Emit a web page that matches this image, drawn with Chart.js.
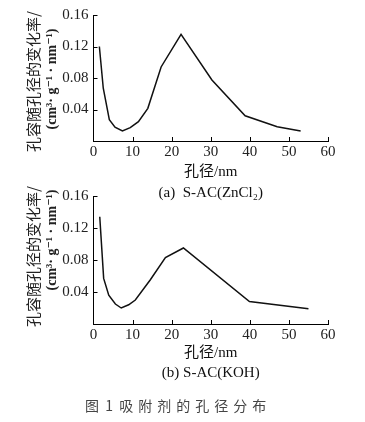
<!DOCTYPE html>
<html>
<head>
<meta charset="utf-8">
<script src="https://cdn.jsdelivr.net/npm/chart.js@4.4.1/dist/chart.umd.min.js"></script>
<style>
  html, body { margin: 0; padding: 0; background: #fff; }
  body { width: 365px; height: 422px; position: relative; overflow: hidden; }
  .wrap { position: absolute; left: 0; width: 365px; }
  #wa { top: 0; height: 202px; }
  #wb { top: 181px; height: 201px; }
  #caption { position: absolute; top: 395px; left: 85px; font: 14px "Noto Sans CJK SC", sans-serif; color: #444; white-space: pre; }
  #caption .rest { letter-spacing: 5px; }
</style>
</head>
<body>
<div class="wrap" id="wa"><canvas id="ca"></canvas></div>
<div class="wrap" id="wb"><canvas id="cb"></canvas></div>
<div id="caption">图  1  <span class="rest">吸附剂的孔径分布</span></div>
<script>
// ---- data ----
const poreA = [1.5, 2.5, 4.05, 5.5, 7.4, 9.4, 11.5, 13.9, 17.3, 22.4, 30.3, 38.8, 47.0, 53.0];
const rateA = [0.120, 0.067, 0.027, 0.0175, 0.0127, 0.017, 0.0245, 0.0415, 0.094, 0.1355, 0.0775, 0.032, 0.018, 0.0127];
const poreB = [1.6, 2.6, 3.9, 5.6, 7.1, 9.0, 10.7, 14.5, 18.4, 23.0, 39.9, 55.0];
const rateB = [0.134, 0.057, 0.036, 0.025, 0.020, 0.024, 0.030, 0.055, 0.083, 0.095, 0.028, 0.019];
const xTickValues = [0, 10, 20, 30, 40, 50, 60];
const yTickValues = [0.04, 0.08, 0.12, 0.16];
const yTitleLines = ['孔容随孔径的变化率/', '(cm³· g⁻¹ · nm⁻¹)'];
const xTitle = '孔径/nm';
const subtitleA = '(a)  S-AC(ZnCl₂)';
const subtitleB = '(b) S-AC(KOH)';

const serif = '"Liberation Serif", "DejaVu Serif", "Noto Sans CJK SC", serif';

const innerTicks = {
  id: 'innerTicks',
  afterDatasetsDraw(chart) {
    const {ctx, chartArea: a, scales: {x, y}} = chart;
    ctx.save();
    ctx.strokeStyle = '#000';
    ctx.lineWidth = 1;
    ctx.beginPath();
    x.ticks.forEach(t => {
      if (t.value === 0) return;
      const px = Math.round(x.getPixelForValue(t.value)) + 0.5;
      ctx.moveTo(px, a.bottom); ctx.lineTo(px, a.bottom - 4);
    });
    y.ticks.forEach(t => {
      if (t.value === 0) return;
      const py = Math.round(y.getPixelForValue(t.value)) + 0.5;
      ctx.moveTo(a.left, py); ctx.lineTo(a.left + 4, py);
    });
    ctx.stroke();
    ctx.restore();
  }
};

const yTitle = {
  id: 'yTitle',
  afterDraw(chart, args, opts) {
    const ctx = chart.ctx;
    const a = chart.chartArea;
    opts.lines.forEach(l => {
      ctx.save();
      ctx.translate(a.left + l.dx, a.top + l.dy);
      ctx.rotate(-Math.PI / 2);
      ctx.font = l.font;
      ctx.fillStyle = '#222';
      ctx.textAlign = 'center';
      ctx.textBaseline = 'middle';
      ctx.fillText(l.text, 0, 0);
      ctx.restore();
    });
  }
};

function makeChart(id, xs, ys, subtitle, geo) {
  return new Chart(document.getElementById(id), {
    type: 'line',
    data: {
      datasets: [{
        data: xs.map((x, i) => ({x: x, y: ys[i]})),
        borderColor: '#111',
        borderWidth: 1.5,
        pointRadius: 0,
        tension: 0,
        fill: false
      }]
    },
    options: {
      responsive: true,
      maintainAspectRatio: false,
      animation: false,
      layout: { padding: { top: 15, left: 0, right: 37, bottom: 0 } },
      plugins: {
        legend: { display: false },
        tooltip: { enabled: false },
        title: {
          display: true,
          text: subtitle,
          position: 'bottom',
          fullSize: false,
          color: '#111',
          font: { family: serif, size: 15, weight: 'normal', lineHeight: 1.2 },
          padding: { top: geo.subPad, bottom: 0 }
        },
        yTitle: {
          lines: [
            { text: yTitleLines[0], dx: -60.5, dy: geo.l1dy, font: '15px "Noto Sans CJK SC", sans-serif' },
            { text: yTitleLines[1], dx: -41.5, dy: geo.l2dy, font: 'bold 14px ' + serif }
          ]
        }
      },
      scales: {
        x: {
          type: 'linear',
          min: 0, max: 60,
          afterBuildTicks: s => { s.ticks = xTickValues.map(v => ({value: v})); },
          afterFit: s => { s.height = geo.xH; },
          grid: { display: true, drawOnChartArea: false, drawTicks: false },
          border: { display: true, color: '#000', width: 1 },
          ticks: { padding: 2, color: '#222', font: { family: serif, size: 15 }, maxRotation: 0 },
          title: { display: true, text: xTitle, color: '#111', font: { family: serif, size: 15, weight: 'normal', lineHeight: 1.2 }, padding: { top: 0, bottom: 2 } }
        },
        y: {
          type: 'linear',
          min: 0, max: 0.16,
          afterBuildTicks: s => { s.ticks = [{value: 0}].concat(yTickValues.map(v => ({value: v}))); },
          afterFit: s => { s.width = 93.5; },
          grid: { display: true, drawOnChartArea: false, drawTicks: false },
          border: { display: true, color: '#000', width: 1 },
          ticks: {
            padding: 5, color: '#222', font: { family: serif, size: 15 },
            callback: v => v === 0 ? '' : v.toFixed(2)
          }
        }
      }
    },
    plugins: [innerTicks, yTitle]
  });
}

makeChart('ca', poreA, rateA, subtitleA, { xH: 42, subPad: 1, l1dy: 66.5, l2dy: 64 });
makeChart('cb', poreB, rateB, subtitleB, { xH: 40, subPad: 0, l1dy: 60.5, l2dy: 44 });
</script>
</body>
</html>
